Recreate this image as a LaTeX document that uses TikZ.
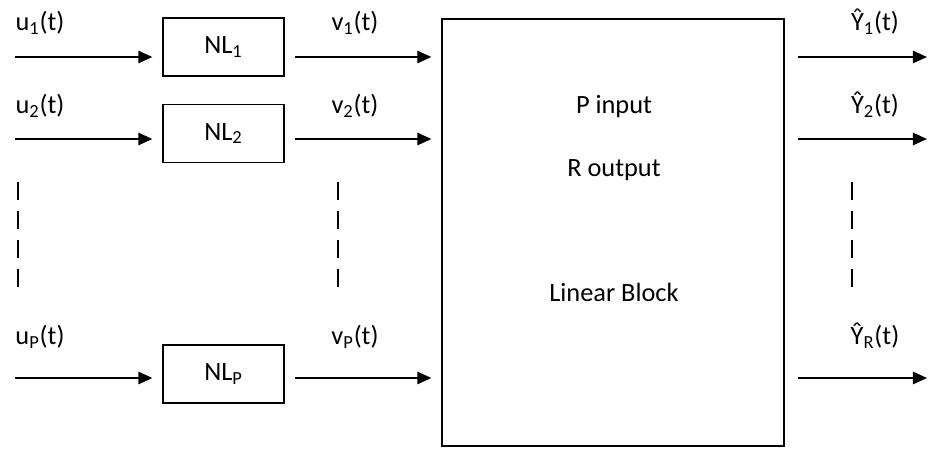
\documentclass[tikz,border=0pt]{standalone}
\usepackage{fontspec}
\setmainfont{Carlito}
\usetikzlibrary{arrows.meta}

\begin{document}
\begin{tikzpicture}[
    x=0.02cm, y=-0.02cm,
    font=\fontsize{15}{18}\selectfont,
    nlblock/.style={draw, line width=1.1pt, inner sep=0pt, minimum width=2.42cm, minimum height=1.16cm},
    linblock/.style={draw, line width=1.1pt, inner sep=0pt, minimum width=6.84cm, minimum height=8.54cm},
    sigarrow/.style={line width=1.1pt, -{Triangle[length=8pt, width=7pt]}},
    gapline/.style={line width=1.1pt, dash pattern=on 10pt off 6.5pt},
]
    \useasboundingbox (0,0) rectangle (928,450);

    \node[nlblock] (nl1) at (223.5, 47) {NL\textsubscript{1}};
    \node[nlblock] (nl2) at (223.5, 133.5) {NL\textsubscript{2}};
    \node[nlblock] (nlP) at (223.5, 374) {NL\textsubscript{P}};

    \node[linblock] (lin) at (613, 232.5) {};
    \node (pin) at (614, 107) {P input};
    \node (rout) at (614, 170) {R output};
    \node (linname) at (614, 292) {Linear Block};

    % signal labels
    \node (u1) at (40, 23) {u\textsubscript{1}(t)};
    \node (u2) at (40, 106) {u\textsubscript{2}(t)};
    \node (uP) at (40, 337) {u\textsubscript{P}(t)};
    \node (v1) at (355, 23) {v\textsubscript{1}(t)};
    \node (v2) at (355, 106) {v\textsubscript{2}(t)};
    \node (vP) at (355, 337) {v\textsubscript{P}(t)};
    \node (y1) at (875, 22) {Ŷ\textsubscript{1}(t)};
    \node (y2) at (875, 105) {Ŷ\textsubscript{2}(t)};
    \node (yR) at (875, 336) {Ŷ\textsubscript{R}(t)};

    \foreach \r/\yy in {1/57, 2/139, P/378} {
        \coordinate (in\r) at (15, \yy);
        \draw[sigarrow, shorten >=5.5pt] (in\r) -- (in\r -| nl\r.west);
        \draw[sigarrow, shorten <=5.5pt, shorten >=5.5pt] (in\r -| nl\r.east) -- (in\r -| lin.west);
    }

    \foreach \r/\yy in {1/57, 2/139, R/378} {
        \coordinate (out\r) at (927, \yy);
        \draw[sigarrow, shorten <=7.4pt] (out\r -| lin.east) -- (out\r);
    }

    \foreach \x in {18, 338, 852} {
        \draw[gapline] (\x, 182) -- (\x, 287);
    }
\end{tikzpicture}
\end{document}
